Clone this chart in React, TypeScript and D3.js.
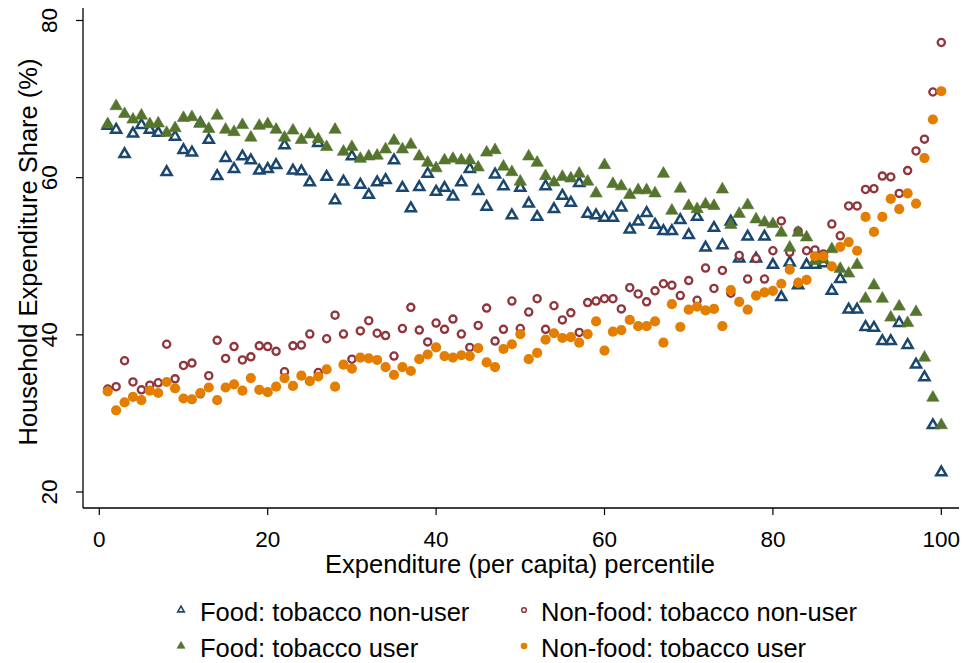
import React from 'react';
import * as d3 from 'd3';

const percentile = d3.range(1, 101);

const foodNonUser = [
  66.6, 66.1, 63.0, 65.6, 66.7, 66.1, 65.7, 60.7, 65.2, 63.5,
  63.2, 66.9, 64.8, 60.2, 62.5, 61.1, 62.7, 62.2, 60.9, 61.1,
  61.6, 64.1, 60.9, 60.8, 59.4, 64.4, 60.1, 57.1, 59.5, 62.7,
  59.1, 57.8, 59.4, 59.7, 62.2, 58.7, 56.1, 58.8, 60.5, 58.2,
  58.7, 57.6, 59.4, 61.1, 58.3, 56.3, 60.4, 58.9, 55.2, 58.7,
  56.7, 55.0, 58.9, 56.0, 57.7, 56.8, 59.3, 55.4, 55.2, 54.9,
  54.9, 56.2, 53.4, 54.4, 55.5, 54.0, 53.2, 53.2, 54.6, 52.7,
  55.0, 51.1, 53.6, 51.4, 54.4, 49.7, 52.5, 49.7, 52.5, 48.9,
  44.8, 49.2, 46.3, 48.9, 48.9, 49.1, 45.6, 47.1, 43.2, 43.2,
  41.0, 40.9, 39.2, 39.2, 41.5, 38.7, 36.2, 34.6, 28.5, 22.5,
];

const foodUser = [
  66.8, 69.1, 68.1, 67.4, 67.9, 66.8, 66.9, 65.7, 66.3, 67.6,
  67.7, 66.9, 66.2, 67.9, 66.1, 65.8, 66.7, 65.1, 66.6, 66.8,
  66.1, 65.1, 66.0, 64.8, 65.5, 64.9, 63.9, 66.1, 63.3, 63.9,
  62.4, 62.7, 62.8, 63.6, 64.7, 63.6, 64.2, 62.7, 61.9, 61.2,
  62.2, 62.4, 62.2, 62.2, 61.3, 63.2, 63.5, 61.4, 60.7, 59.5,
  62.7, 61.9, 60.2, 59.4, 60.1, 59.9, 60.5, 59.5, 58.0, 61.6,
  59.2, 58.9, 57.8, 58.4, 58.4, 58.0, 60.5, 55.8, 58.6, 56.4,
  56.0, 56.6, 56.4, 58.5, 54.0, 55.4, 56.5, 54.7, 54.3, 54.1,
  53.0, 51.1, 53.0, 52.4, 49.4, 49.6, 50.9, 48.4, 47.8, 48.9,
  44.6, 46.3, 44.6, 42.2, 43.6, 41.5, 42.9, 37.1, 32.0, 28.5,
];

const nonFoodNonUser = [
  33.1, 33.4, 36.7, 34.0, 33.0, 33.6, 33.9, 38.8, 34.4, 36.1,
  36.4, 32.5, 34.8, 39.3, 37.0, 38.5, 36.8, 37.2, 38.6, 38.5,
  37.9, 35.3, 38.6, 38.7, 40.1, 35.2, 39.5, 42.5, 40.1, 36.9,
  40.5, 41.8, 40.2, 39.9, 37.3, 40.8, 43.5, 40.6, 39.1, 41.5,
  40.7, 42.0, 40.1, 38.4, 41.2, 43.4, 39.2, 40.7, 44.3, 40.8,
  42.9, 44.6, 40.7, 43.7, 41.9, 42.8, 40.3, 44.1, 44.3, 44.6,
  44.6, 43.3, 46.0, 45.2, 44.2, 45.6, 46.5, 46.3, 45.0, 46.9,
  44.4, 48.5, 45.9, 48.2, 45.3, 50.1, 47.1, 49.7, 47.1, 50.7,
  54.5, 50.5, 53.2, 50.7, 50.8, 50.3, 54.1, 52.6, 56.4, 56.4,
  58.5, 58.6, 60.2, 60.1, 58.0, 60.9, 63.4, 64.9, 70.9, 77.2,
];

const nonFoodUser = [
  32.8, 30.4, 31.4, 32.1, 31.7, 32.9, 32.6, 34.0, 33.2, 31.9,
  31.8, 32.6, 33.3, 31.7, 33.3, 33.7, 32.9, 34.5, 33.0, 32.7,
  33.4, 34.5, 33.5, 34.8, 34.1, 34.7, 35.6, 33.4, 36.2, 35.7,
  37.1, 37.0, 36.8, 35.9, 34.9, 35.9, 35.4, 36.9, 37.5, 38.4,
  37.3, 37.1, 37.4, 37.3, 38.3, 36.5, 35.9, 38.2, 38.8, 40.1,
  36.9, 37.7, 39.4, 40.2, 39.6, 39.7, 39.0, 40.1, 41.7, 38.0,
  40.4, 40.6, 41.9, 41.1, 41.1, 41.7, 39.0, 43.9, 41.0, 43.2,
  43.6, 43.1, 43.3, 41.1, 45.7, 44.2, 43.2, 45.0, 45.4, 45.6,
  46.5, 48.3, 46.6, 47.0, 50.0, 50.0, 48.7, 51.2, 51.8, 50.7,
  55.0, 53.1, 55.0, 57.3, 56.0, 58.0, 56.7, 62.5, 67.4, 71.0,
];

const xTicks = [0, 20, 40, 60, 80, 100];
const yTicks = [20, 40, 60, 80];

const seriesNames = [
  'Food: tobacco non-user',
  'Non-food: tobacco non-user',
  'Food: tobacco user',
  'Non-food: tobacco user',
];

const NAVY = '#1a476f';
const MAROON = '#90353b';
const GREEN = '#55752f';
const ORANGE = '#e37e00';
const FONT = '"Liberation Sans", Arial, Helvetica, sans-serif';

type Kind = 'triHollow' | 'circHollow' | 'triFilled' | 'circFilled';

function Marker({ kind, cx, cy, scale = 1 }: { kind: Kind; cx: number; cy: number; scale?: number }) {
  if (kind === 'triHollow') {
    const d = d3.symbol(d3.symbolTriangle, 44 * scale * scale)()!;
    return <path d={d} transform={`translate(${cx},${cy})`} fill="white" stroke={NAVY} strokeWidth={2.5 * scale} />;
  }
  if (kind === 'triFilled') {
    const d = d3.symbol(d3.symbolTriangle, 66 * scale * scale)()!;
    return <path d={d} transform={`translate(${cx},${cy})`} fill={GREEN} stroke={GREEN} strokeWidth={0.6} />;
  }
  if (kind === 'circHollow') {
    return <circle cx={cx} cy={cy} r={3.6 * scale} fill="white" stroke={MAROON} strokeWidth={2.3 * scale} />;
  }
  return <circle cx={cx} cy={cy} r={5.1 * scale} fill={ORANGE} />;
}

export default function App() {
  const W = 975;
  const H = 663;
  const x = d3.scaleLinear().domain([0, 100]).range([99.3, 941.3]);
  const y = d3.scaleLinear().domain([20, 80]).range([492, 20.5]);

  const axisLeft = 83;
  const axisBottom = 508;

  const series: { kind: Kind; values: number[] }[] = [
    { kind: 'triHollow', values: foodNonUser },
    { kind: 'circHollow', values: nonFoodNonUser },
    { kind: 'triFilled', values: foodUser },
    { kind: 'circFilled', values: nonFoodUser },
  ];

  const legendItems = [
    { kind: 'triHollow' as Kind, label: seriesNames[0], mx: 181, tx: 200, ty: 612 },
    { kind: 'circHollow' as Kind, label: seriesNames[1], mx: 524, tx: 541, ty: 612 },
    { kind: 'triFilled' as Kind, label: seriesNames[2], mx: 181, tx: 200, ty: 648 },
    { kind: 'circFilled' as Kind, label: seriesNames[3], mx: 524, tx: 541, ty: 648 },
  ];

  return (
    <svg width={W} height={H} style={{ position: 'absolute', left: 0, top: 0, background: 'white' }} fontFamily={FONT}>
      <rect width={W} height={H} fill="white" />
      {/* axes */}
      <line x1={axisLeft} x2={axisLeft} y1={8} y2={axisBottom} stroke="#000" strokeWidth={1.3} />
      <line x1={axisLeft} x2={959} y1={axisBottom} y2={axisBottom} stroke="#000" strokeWidth={1.3} />
      {yTicks.map((t) => (
        <g key={`yt${t}`}>
          <line x1={axisLeft - 7} x2={axisLeft} y1={y(t)} y2={y(t)} stroke="#000" strokeWidth={1.2} />
          <text
            transform={`translate(${49},${y(t)}) rotate(-90)`}
            textAnchor="middle"
            dominantBaseline="central"
            fontSize={22.5}
            fill="#000"
          >
            {t}
          </text>
        </g>
      ))}
      {xTicks.map((t) => (
        <g key={`xt${t}`}>
          <line x1={x(t)} x2={x(t)} y1={axisBottom} y2={axisBottom + 7} stroke="#000" strokeWidth={1.2} />
          <text x={x(t)} y={539} textAnchor="middle" dominantBaseline="central" fontSize={22.5} fill="#000">
            {t}
          </text>
        </g>
      ))}
      <text
        transform={`translate(${28},${252}) rotate(-90)`}
        textAnchor="middle"
        dominantBaseline="central"
        fontSize={25.5}
        fill="#000"
      >
        Household Expenditure Share (%)
      </text>
      <text x={520} y={564} textAnchor="middle" dominantBaseline="central" fontSize={25.5} fill="#000">
        Expenditure (per capita) percentile
      </text>

      {/* data */}
      {series.map((s, si) => (
        <g key={`s${si}`}>
          {s.values.map((v, i) => (
            <Marker key={i} kind={s.kind} cx={x(percentile[i])} cy={y(v)} />
          ))}
        </g>
      ))}

      {/* legend */}
      {legendItems.map((li, i) => (
        <g key={`lg${i}`}>
          <Marker kind={li.kind} cx={li.mx} cy={li.ty - 2} scale={0.65} />
          <text x={li.tx} y={li.ty} dominantBaseline="central" fontSize={25.5} fill="#000">
            {li.label}
          </text>
        </g>
      ))}
    </svg>
  );
}
